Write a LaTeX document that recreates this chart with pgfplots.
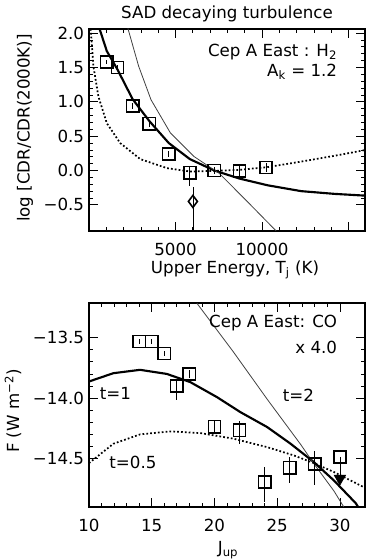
\documentclass[border=0pt]{standalone}
\usepackage{fontspec}
\setmainfont{DejaVu Sans}
\usepackage{pgfplots}
\pgfplotsset{compat=1.18}
\begin{document}
\fontsize{12.5}{14}\selectfont
\begin{tikzpicture}
\path[use as bounding box] (0,0) rectangle (274.5pt,419.25pt);
\pgfplotsset{panel/.style={
    scale only axis, width=207pt, anchor=south west,
    axis line style={line width=1pt},
    tick align=inside, major tick length=6.5pt, minor tick length=3pt,
    every tick/.style={black, line width=0.6pt},
    tick label style={font=\fontsize{12.5}{14}\selectfont, inner sep=0pt},
    label style={font=\fontsize{12.5}{14}\selectfont, inner sep=0pt},
    every node/.append style={font=\fontsize{12.5}{14}\selectfont},
    yticklabel style={anchor=east, xshift=-3.5pt},
    xticklabel style={anchor=base, yshift=-18.75pt},
    scaled ticks=false,
    /pgf/number format/assume math mode=true,
}}
% ---------------- top panel: H2
\begin{axis}[panel, at={(66.75pt,246pt)}, height=151.5pt,
    xmin=0, xmax=15950, ymin=-0.88, ymax=2.06,
    xtick={5000,10000,15000}, xticklabels={5000,10000,{}},
    minor xtick={1000,2000,3000,4000,6000,7000,8000,9000,11000,12000,13000,14000},
    ytick={-0.5,0,0.5,1,1.5,2}, yticklabels={−0.5,0.0,0.5,1.0,1.5,2.0},
    minor y tick num=4,
    title={SAD decaying turbulence},
    every axis title/.style={at={(axis description cs:0.5,1.053)}, anchor=base,
        inner sep=0pt, font=\fontsize{12.5}{14}\selectfont},
    xlabel={Upper Energy, T\textsubscript{j} (K)},
    xlabel style={at={(axis description cs:0.529,-0.208)}, anchor=base},
    ylabel={log [CDR/CDR(2000K)]},
    ylabel style={at={(axis description cs:-0.232,0.51)}, anchor=center},
]
\addplot[line width=1.6pt] coordinates {
    (600,2.07) (1027,1.74) (1646,1.47) (2518,1.04) (3487,0.72) (4610,0.40)
    (5830,0.166) (7245,0) (8697,-0.117) (10324,-0.215) (12262,-0.30)
    (14199,-0.34) (16000,-0.366)};
\addplot[line width=0.6pt, black!75] coordinates {
    (2247,2.07) (2867,1.52) (3584,1.03) (4707,0.546) (6063,0.205)
    (7516,-0.039) (9065,-0.43) (10809,-0.878)};
\addplot[line width=1.3pt, dash pattern=on 1.3pt off 1.6pt] coordinates {
    (100,2.06) (252,1.52) (542,1.08) (1027,0.69) (1801,0.40) (2964,0.166)
    (4513,0.034) (5869,-0.015) (7245,-0.005) (8697,0.01) (10324,0.05)
    (12262,0.13) (14199,0.215) (16000,0.30)};
\addplot[only marks, mark=square, mark size=4.6pt, mark options={line width=1.2pt},
    error bars/.cd, y dir=both, y explicit, error mark=none,
    error bar style={line width=0.6pt}] coordinates {
    (1027,1.58) +- (0,0.03)
    (1646,1.50) +- (0,0.04)
    (2518,0.94) +- (0,0.04)
    (3487,0.68) +- (0,0.04)
    (4610,0.24) +- (0,0.04)
    (5830,-0.03) += (0,0.10) -= (0,0.20)
    (7245,0.00) +- (0,0.05)
    (8697,-0.005) +- (0,0.07)
    (10227,0.045) +- (0,0.06)};
\addplot[only marks, mark=diamond, mark size=4.5pt, mark options={line width=1.2pt},
    error bars/.cd, y dir=both, y explicit, error mark=none,
    error bar style={line width=0.6pt}] coordinates {
    (6005,-0.45) += (0,0.21) -= (0,0.45)};
\node[anchor=east] at (rel axis cs:0.92,0.886) {Cep A East : H\textsubscript{2}};
\node[anchor=east] at (rel axis cs:0.92,0.787) {A\textsubscript{k} = 1.2};
\end{axis}
% ---------------- bottom panel: CO
\begin{axis}[panel, at={(66.75pt,39pt)}, height=153pt,
    xmin=10, xmax=32, ymin=-14.907, ymax=-13.21,
    xtick={10,15,20,25,30}, minor x tick num=4,
    ytick={-14.5,-14,-13.5}, yticklabels={−14.5,−14.0,−13.5},
    minor y tick num=4,
    xlabel={J\textsubscript{up}},
    xlabel style={at={(axis description cs:0.504,-0.23)}, anchor=base},
    ylabel={F (W m\textsuperscript{−2})},
    ylabel style={at={(axis description cs:-0.275,0.47)}, anchor=center},
]
\addplot[line width=1.6pt] coordinates {
    (10,-13.863) (11.94,-13.794) (14.07,-13.766) (16.2,-13.80) (18.07,-13.868)
    (20.2,-13.993) (22.07,-14.118) (24.2,-14.242) (26.06,-14.38)
    (27.92,-14.533) (29.52,-14.686) (31.25,-14.874) (31.6,-14.93)};
\addplot[line width=0.6pt, black!75] coordinates {
    (18.6,-13.212) (21.53,-13.62) (24.2,-14.01) (26.86,-14.385)
    (27.92,-14.546) (29.52,-14.773) (30.31,-14.907)};
\addplot[line width=1.3pt, dash pattern=on 1.3pt off 1.6pt] coordinates {
    (10,-14.542) (11.94,-14.381) (14.07,-14.303) (16.47,-14.278) (18.87,-14.292)
    (21.53,-14.339) (24.2,-14.409) (26.33,-14.478) (27.92,-14.542)
    (29.52,-14.616) (32,-14.747)};
\addplot[only marks, mark=square, mark size=4.6pt, mark options={line width=1.2pt},
    error bars/.cd, y dir=both, y explicit, error mark=none,
    error bar style={line width=0.6pt}] coordinates {
    (14,-13.53) +- (0,0.02)
    (15,-13.53) +- (0,0.02)
    (16,-13.63) +- (0,0.02)
    (17,-13.90) += (0,0.05) -= (0,0.12)
    (18,-13.80) +- (0,0.03)
    (20,-14.24) +- (0,0.06)
    (22,-14.27) += (0,0.08) -= (0,0.11)
    (24,-14.70) += (0,0.125) -= (0,0.166)
    (26,-14.58) += (0,0.09) -= (0,0.13)
    (28,-14.55) += (0,0.11) -= (0,0.17)
    (30,-14.49) += (0,0) -= (0,0.17)};
\addplot[only marks, mark=triangle*, mark size=5pt,
    mark options={rotate=180, fill=black}] coordinates {(30,-14.67)};
\node[anchor=east] at (rel axis cs:0.92,0.90) {Cep A East: CO};
\node[anchor=east] at (rel axis cs:0.92,0.78) {x 4.0};
\node at (axis cs:12.1,-13.965) {t=1};
\node at (axis cs:26.7,-13.98) {t=2};
\node at (axis cs:13.5,-14.54) {t=0.5};
\end{axis}
\end{tikzpicture}
\end{document}
